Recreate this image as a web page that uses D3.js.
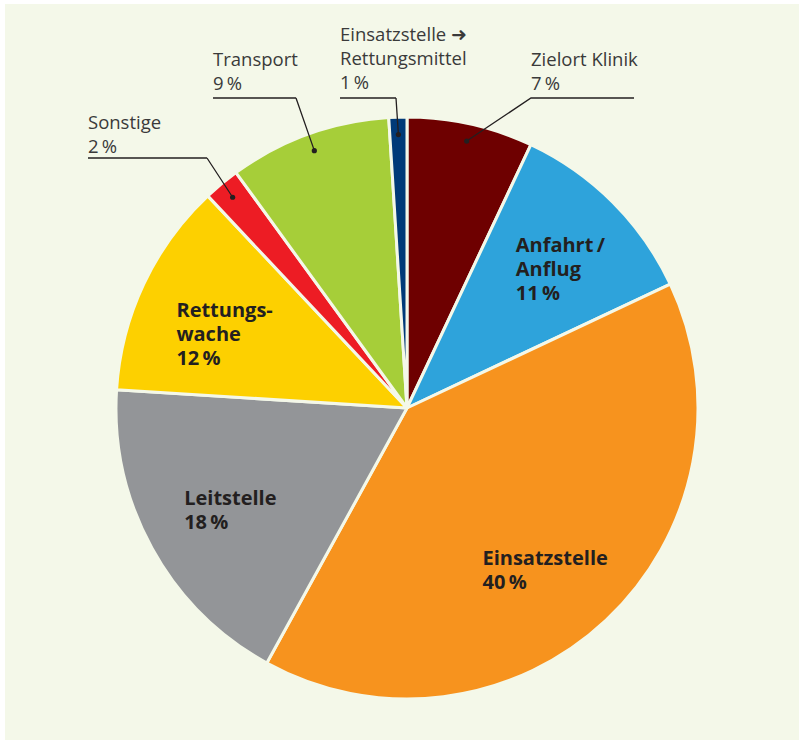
<!DOCTYPE html>
<html>
<head>
<meta charset="utf-8">
<script src="https://cdn.jsdelivr.net/npm/d3@7"></script>
<style>
  body { margin: 0; background: #ffffff; }
  svg { display: block; }
</style>
</head>
<body>
<script>
'use strict';

// slices, clockwise from 12 o'clock
const categories = ["Zielort Klinik", "Anfahrt / Anflug", "Einsatzstelle", "Leitstelle",
                    "Rettungswache", "Sonstige", "Transport", "Einsatzstelle ➜ Rettungsmittel"];
const shares = [7, 11, 40, 18, 12, 2, 9, 1];
const labelLines = [
  ["Zielort Klinik", "7\u2009%"],
  ["Anfahrt\u2009/", "Anflug", "11\u2009%"],
  ["Einsatzstelle", "40\u2009%"],
  ["Leitstelle", "18\u2009%"],
  ["Rettungs-", "wache", "12\u2009%"],
  ["Sonstige", "2\u2009%"],
  ["Transport", "9\u2009%"],
  ["Einsatzstelle ➜", "Rettungsmittel", "1\u2009%"]
];
const colors = ["#6e0000", "#2ea3db", "#f7931e", "#939598", "#fdd000", "#ed1c24", "#a6ce39", "#003a78"];

(function() {
  let width = 799;
  let height = 740;
  let cx = 407, cy = 408, radius = 291;
  let bg = "#f4f8e9";

  // inner labels: first baseline / left edge, as angle offset (deg) from slice middle and radius
  let inner = {
    1: { dA: -10.1, r: 190 },
    2: { dA: 17.5, r: 174 },
    3: { dA: 5.3, r: 243 },
    4: { dA: -3.6, r: 248 }
  };
  // outer labels: left x, first baseline, leader elbow x, leader y
  let outer = {
    0: { x: 531, y: 66, ex: 531, ly: 98, lx2: 634 },
    5: { x: 88, y: 129, ex: 207, ly: 158, lx2: 207 },
    6: { x: 213, y: 66, ex: 296, ly: 98, lx2: 296 },
    7: { x: 340, y: 41, ex: 396, ly: 98, lx2: 396 }
  };

  let svg = d3.select("body").append("svg")
    .attr("width", width)
    .attr("height", height);

  svg.append("rect")
    .attr("x", 5).attr("y", 4)
    .attr("width", width - 5).attr("height", height - 4)
    .attr("fill", bg);

  let pie = d3.pie().sort(null).value(d => d)
    .startAngle(0).endAngle(2 * Math.PI);
  let arcs = pie(shares);
  let arc = d3.arc().innerRadius(0).outerRadius(radius);

  let g = svg.append("g").attr("transform", "translate(" + cx + "," + cy + ")");

  g.selectAll("path.slice")
    .data(arcs)
    .enter()
    .append("path")
      .attr("class", "slice")
      .attr("d", arc)
      .attr("fill", (d, i) => colors[i])
      .attr("stroke", bg)
      .attr("stroke-width", 3)
      .attr("stroke-linejoin", "round");

  function polar(angle, r) {
    return [r * Math.sin(angle), -r * Math.cos(angle)];
  }

  // inner bold labels
  Object.keys(inner).forEach(k => {
    let i = +k;
    let a = arcs[i];
    let mid = (a.startAngle + a.endAngle) / 2 + inner[i].dA * Math.PI / 180;
    let p = polar(mid, inner[i].r);
    let t = g.append("text")
      .style("font-family", "'Open Sans', 'Noto Sans', sans-serif")
      .style("font-weight", "700")
      .style("font-size", "20px")
      .attr("fill", "#231f20");
    labelLines[i].forEach((line, j) => {
      t.append("tspan").attr("x", p[0]).attr("y", p[1] + j * 24).text(line);
    });
  });

  // outer labels with leader lines
  Object.keys(outer).forEach(k => {
    let i = +k;
    let o = outer[i];
    let a = arcs[i];
    let mid = (a.startAngle + a.endAngle) / 2;
    let dot = polar(mid, radius * 0.94);

    let t = svg.append("text")
      .style("font-family", "'Open Sans', 'Noto Sans', sans-serif")
      .style("font-weight", "400")
      .style("font-size", "18.5px")
      .attr("fill", "#3a3a3a");
    labelLines[i].forEach((line, j) => {
      t.append("tspan").attr("x", o.x).attr("y", o.y + j * 24).text(line);
    });

    svg.append("path")
      .attr("d", "M" + o.lx2 + "," + o.ly + "H" + o.x + (o.ex === o.x ? "" : "M" + o.ex + "," + o.ly) +
                 "L" + (cx + dot[0]) + "," + (cy + dot[1]))
      .attr("fill", "none")
      .attr("stroke", "#231f20")
      .attr("stroke-width", 1.3);

    svg.append("circle")
      .attr("cx", cx + dot[0])
      .attr("cy", cy + dot[1])
      .attr("r", 2.6)
      .attr("fill", "#231f20");
  });
})();
</script>
</body>
</html>
